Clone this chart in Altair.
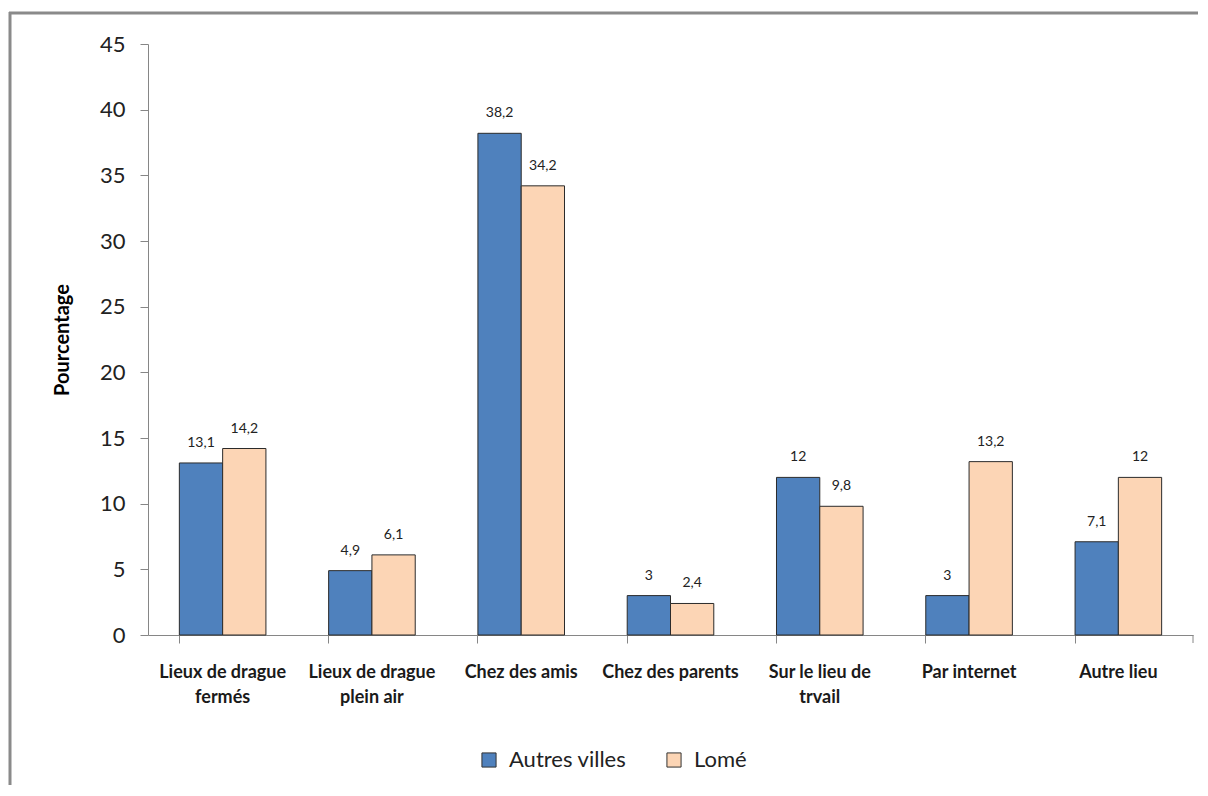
import altair as alt
import pandas as pd

categories = ["Lieux de drague fermés", "Lieux de drague plein air", "Chez des amis",
              "Chez des parents", "Sur le lieu de trvail", "Par internet", "Autre lieu"]
label_lines = [["Lieux de drague", "fermés"], ["Lieux de drague", "plein air"], ["Chez des amis"],
               ["Chez des parents"], ["Sur le lieu de", "trvail"], ["Par internet"], ["Autre lieu"]]
series = ["Autres villes", "Lomé"]
autres_villes = [13.1, 4.9, 38.2, 3, 12, 3, 7.1]
lome = [14.2, 6.1, 34.2, 2.4, 9.8, 13.2, 12]
colors = ["#4F81BD", "#FCD5B5"]
y_ticks = [0, 5, 10, 15, 20, 25, 30, 35, 40, 45]

rows = []
for i, c in enumerate(categories):
    for s, vals in zip(series, [autres_villes, lome]):
        v = vals[i]
        rows.append({"cat": c, "series": s, "value": v,
                     "label": f"{v:g}".replace(".", ",")})
df = pd.DataFrame(rows)

W, H = 1045, 591
FONT = "Lato"

expr = ""
for c, lines in zip(categories, label_lines):
    arr = "[" + ",".join("'" + l + "'" for l in lines) + "]"
    expr += f"datum.label == '{c}' ? {arr} : "
expr += "datum.label"

x_enc = alt.X("cat:N", sort=categories,
              scale=alt.Scale(paddingInner=0.42, paddingOuter=0.21),
              axis=alt.Axis(title=None, labelAngle=0, labelExpr=expr, bandPosition=0,
                            labelFont=FONT, labelFontSize=18, labelFontWeight="bold",
                            labelColor="#1a1a1a",
                            labelPadding=20, labelLineHeight=25,
                            tickSize=8, tickColor="#868686", domainColor="#868686",
                            labelBaseline="top"))
y_enc = alt.Y("value:Q", scale=alt.Scale(domain=[0, 45], nice=False),
              axis=alt.Axis(values=y_ticks, title="Pourcentage", grid=False,
                            titleFont=FONT, titleFontSize=20, titleFontWeight="bold",
                            titleColor="#000", titleX=-86, titleY=H / 2,
                            titleBaseline="middle", titleAngle=-90,
                            labelFont=FONT, labelFontSize=22, labelColor="#222",
                            labelPadding=15, tickSize=8, tickColor="#868686",
                            domainColor="#868686"))
xoff = alt.XOffset("series:N", sort=series)

bars = alt.Chart(df).mark_bar(stroke="#2b2b2b", strokeWidth=1).encode(
    x=x_enc, y=y_enc, xOffset=xoff,
    color=alt.Color("series:N", sort=series,
                    scale=alt.Scale(domain=series, range=colors),
                    legend=alt.Legend(title=None, orient="none", legendX=330, legendY=705,
                                      direction="horizontal", symbolType="square",
                                      symbolSize=200, symbolStrokeColor="#333",
                                      symbolStrokeWidth=1, labelFont=FONT,
                                      labelFontSize=22, labelColor="#222",
                                      labelOffset=9, columnPadding=36))
)

text = alt.Chart(df).mark_text(baseline="bottom", dy=-13, font=FONT, fontSize=14,
                               color="#222").encode(
    x=alt.X("cat:N", sort=categories), y="value:Q", xOffset=xoff, text="label:N"
)

frame_data = alt.Data(values=[{"k": 1}])
frame_top = alt.Chart(frame_data).mark_rule(color="#8a8a8a", strokeWidth=3).encode(
    x=alt.value(-139), x2=alt.value(W + 80), y=alt.value(-31)
)
frame_left = alt.Chart(frame_data).mark_rule(color="#8a8a8a", strokeWidth=3).encode(
    x=alt.value(-138), y=alt.value(-32), y2=alt.value(H + 200)
)
end_tick = alt.Chart(frame_data).mark_rule(color="#868686").encode(
    x=alt.value(W), y=alt.value(H), y2=alt.value(H + 8)
)

chart = alt.layer(frame_top, frame_left, bars, text, end_tick).properties(
    width=W, height=H,
    autosize=alt.AutoSizeParams(type="none"),
    padding={"left": 140, "top": 36, "right": 5, "bottom": 150},
).configure_view(stroke=None)

chart.save("out.html", embed_options={"renderer": "svg", "actions": False})
